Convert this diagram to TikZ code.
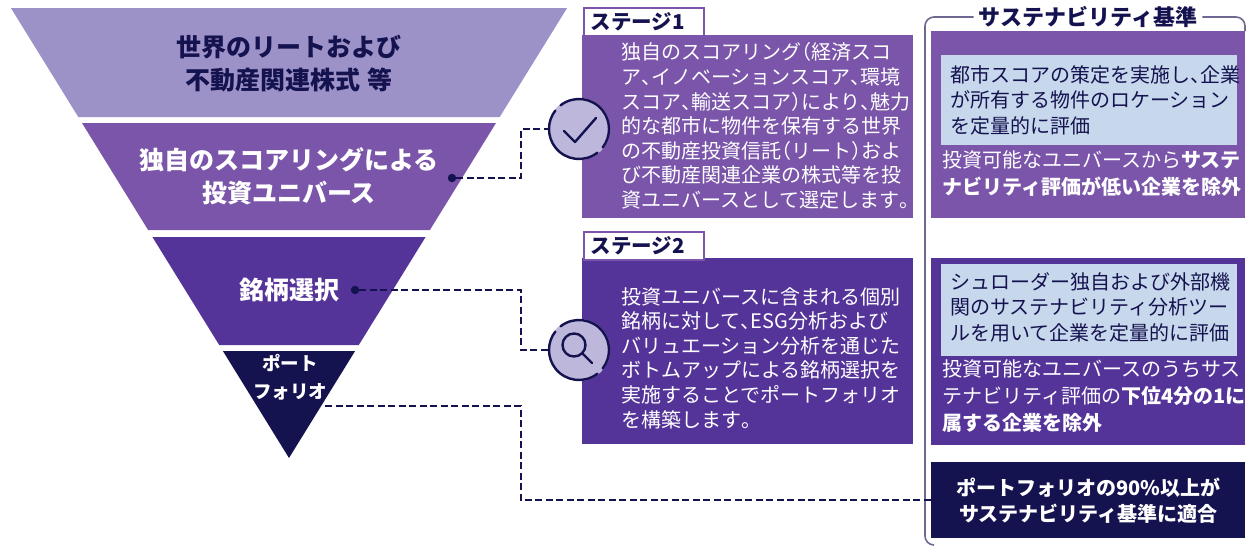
\documentclass[tikz,border=0pt]{standalone}
\usepackage{fontspec}
\setmainfont{Noto Sans CJK JP}
\newfontfamily\jph{Noto Sans CJK JP}[RawFeature=+halt]
\newcommand\hw[1]{{\jph #1}}
\definecolor{lav}{HTML}{9C92C8}
\definecolor{purA}{HTML}{7A55A9}
\definecolor{purB}{HTML}{55349A}
\definecolor{navy}{HTML}{15134F}
\definecolor{iconfill}{HTML}{BDB7DC}
\definecolor{lblue}{HTML}{C7D7EC}
\definecolor{framec}{HTML}{6F6890}
\begin{document}
\begin{tikzpicture}[x=1pt,y=-1pt,
  dashc/.style={draw=navy, line width=2.2pt, dash pattern=on 7pt off 3.5pt},
  dotn/.style={circle, fill=navy, inner sep=0pt, minimum size=8.5pt},
  fun/.style={font=\bfseries\fontsize{25}{33}\selectfont, align=center, inner sep=0pt},
  stagetxt/.style={font=\fontsize{20}{24.6}\selectfont, text=white, align=left, anchor=west, inner sep=0pt},
  tabbox/.style={draw=purA, line width=1.5pt, fill=white, anchor=north west, minimum height=28pt,
     text width=106pt, inner xsep=7pt, inner ysep=0pt, align=left, text=navy, font=\bfseries\fontsize{20.5}{24}\selectfont},
  panel/.style={anchor=north west, inner sep=0pt},
  iconc/.style={circle, fill=iconfill, minimum size=62pt, inner sep=0pt},
  iconl/.style={draw=navy, line width=2.4pt, line cap=round, line join=round},
  intxt/.style={font=\fontsize{20}{25.5}\selectfont, text=navy, align=left, anchor=west, inner sep=0pt},
  wtxt/.style={font=\fontsize{20}{27}\selectfont, text=white, align=left, anchor=west, inner sep=0pt},
  framel/.style={draw=framec, line width=1.6pt, rounded corners=9pt}]
\useasboundingbox (0,0) rectangle (1248,549);
\fill[white] (0,0) rectangle (1248,549);

% funnel bands
\fill[lav]  (10.9,8) -- (567.1,8) -- (499.7,117) -- (78.3,117) -- cycle;
\fill[purA] (82,123) -- (496,123) -- (429.9,230) -- (148.1,230) -- cycle;
\fill[purB] (152.4,237) -- (425.6,237) -- (358.8,345) -- (219.2,345) -- cycle;
\fill[navy] (222.9,351) -- (355.1,351) -- (289,458) -- cycle;

\node[fun, text=navy] (t1) at (289,63.5) {世界のリートおよび\\不動産関連株式\hspace{7pt}等};
\node[fun, text=white] (t2) at (289,176.5) {独自のスコアリングによる\\投資ユニバース};
\node[fun, text=white] (t3) at (289,290) {銘柄選択};
\node[fun, text=white, font=\bfseries\fontsize{18.5}{28}\selectfont] (t4) at (290,377.5) {ポート\\フォリオ};

\node[dotn] (d1) at (452,178) {};
\node[dotn] (d2) at (355,290) {};
\coordinate (p0) at (325,406);

% stage boxes
\node[panel, fill=purA, minimum width=331pt, minimum height=183pt] (s1) at (582,35) {};
\node[panel, fill=purB, minimum width=331pt, minimum height=186pt] (s2) at (582,258) {};
\node[tabbox] (tab1) at (583,7) {ステージ1};
\node[tabbox] (tab2) at (583,231) {ステージ2};

\node[stagetxt] (st1) at (621,126) {独自のスコアリング\hw{（}経済スコ\\ア\hw{、}イノベーションスコア\hw{、}環境\\スコア\hw{、}輸送スコア\hw{）}により\hw{、}魅力\\的な都市に物件を保有する世界\\の不動産投資信託\hw{（}リート\hw{）}およ\\び不動産関連企業の株式等を投\\資ユニバースとして選定します\hw{。}};
\node[stagetxt] (st2) at (621,358) {投資ユニバースに含まれる個別\\銘柄に対して\hw{、}ESG分析および\\バリュエーション分析を通じた\\ボトムアップによる銘柄選択を\\実施することでポートフォリオ\\を構築します\hw{。}};

% right panel
\node[panel, fill=purA, minimum width=314pt, minimum height=187pt] (b1) at (931,31) {};
\node[panel, fill=lblue, minimum width=296pt, minimum height=90pt] (in1) at (941,55) {};
\node[panel, fill=purB, minimum width=314pt, minimum height=187pt] (b2) at (931,258) {};
\node[panel, fill=lblue, minimum width=296pt, minimum height=92pt] (in2) at (941,264) {};
\node[panel, fill=navy, minimum width=314pt, minimum height=76pt] (b3) at (931,462) {};
\node[text=white, align=center, inner sep=0pt, font=\bfseries\fontsize{20}{26}\selectfont] (b3t) at (b3.center) {ポートフォリオの90\%以上が\\サステナビリティ基準に適合};

\node[intxt] (i1) at (950,100) {都市スコアの策定を実施し\hw{、}企業\\が所有する物件のロケーション\\を定量的に評価};
\node[wtxt] (w1) at (942,173.5) {投資可能なユニバースから\textbf{サステ}\\\textbf{ナビリティ評価が低い企業を除外}};
\node[intxt] (i2) at (950,307) {シュローダー独自および外部機\\関のサステナビリティ分析ツー\\ルを用いて企業を定量的に評価};
\node[wtxt] (w2) at (942,396.5) {投資可能なユニバースのうちサス\\テナビリティ評価の\textbf{下位4分の1に}\\\textbf{属する企業を除外}};

\node[fill=white, inner xsep=5pt, inner ysep=1pt, text=navy, font=\bfseries\fontsize{22}{26}\selectfont] (title) at (1088,17) {サステナビリティ基準};
\draw[framel] (title.west) -- (925,17) -- (925,545) -- (934,545);
\draw[framel] (title.east) -- (1245,17) -- (1245,31);

% connectors
\coordinate (j1) at (521,178);
\coordinate (j2) at (521,290);
\coordinate (j3) at (521,406);
\node[iconc] (c1) at (579,129) {};
\node[iconc] (c2) at (579,350) {};
\draw[dashc] (d1) -- (j1) |- (c1.west);
\draw[dashc] (d2) -- (j2) |- (c2.west);
\draw[dashc] (p0) -- (j3) |- (b3.west);

% icons
\draw[iconl] (c1.center) ++(52:30) arc (52:218:30);
\draw[iconl] (c1.center) ++(232:30) arc (232:398:30);
\draw[iconl] ([shift={(-15,2)}]c1.center) -- ([shift={(-4,13)}]c1.center) -- ([shift={(17,-11)}]c1.center);
\draw[iconl] (c2.center) ++(52:30) arc (52:218:30);
\draw[iconl] (c2.center) ++(232:30) arc (232:398:30);
\draw[iconl] ([shift={(-5,-5)}]c2.center) circle (11.5);
\draw[iconl] ([shift={(3.5,3.5)}]c2.center) -- ([shift={(13,13)}]c2.center);
\end{tikzpicture}
\end{document}
